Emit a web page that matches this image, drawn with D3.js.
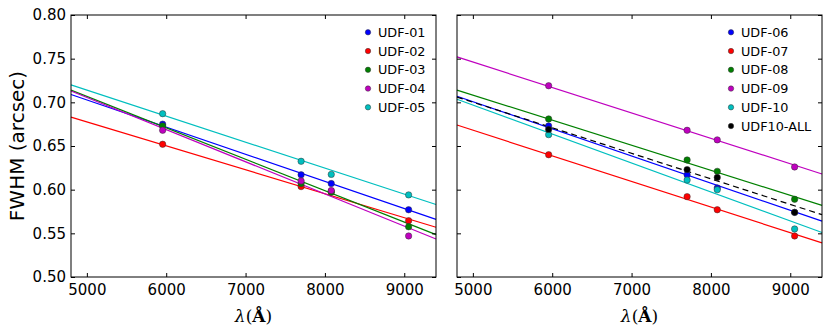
<!DOCTYPE html>
<html>
<head>
<meta charset="utf-8">
<script src="https://cdn.jsdelivr.net/npm/d3@7"></script>
<style>
  body { margin: 0; background: #fff; }
  svg { display: block; font-family: "DejaVu Sans", sans-serif; }
</style>
</head>
<body>
<svg width="830" height="335"></svg>
<script>
// wavelengths of the four filters (Angstrom)
const wavelengths = [5955, 7700, 8080, 9055];
const xTicks = [5000, 6000, 7000, 8000, 9000];
const yTicks = [0.50, 0.55, 0.60, 0.65, 0.70, 0.75, 0.80];
// fitted lines are given by their value at the two ends of the x range
const fitRange = [4800, 9400];

const leftNames = ['UDF-01', 'UDF-02', 'UDF-03', 'UDF-04', 'UDF-05'];
const leftColors = ['#0000ff', '#ff0000', '#008000', '#bf00bf', '#00bfbf'];
const leftValues = [
  [0.675, 0.617, 0.607, 0.577],
  [0.652, 0.6035, 0.598, 0.5645],
  [0.673, 0.607, 0.597, 0.5575],
  [0.668, 0.610, 0.599, 0.547],
  [0.687, 0.6325, 0.6175, 0.594]
];
const leftFits = [
  [0.709, 0.566],
  [0.683, 0.557],
  [0.714, 0.5485],
  [0.713, 0.5435],
  [0.720, 0.583]
];

const rightNames = ['UDF-06', 'UDF-07', 'UDF-08', 'UDF-09', 'UDF-10', 'UDF10-ALL'];
const rightColors = ['#0000ff', '#ff0000', '#008000', '#bf00bf', '#00bfbf', '#000000'];
const rightValues = [
  [0.673, 0.617, 0.602, 0.574],
  [0.640, 0.592, 0.577, 0.547],
  [0.681, 0.634, 0.621, 0.589],
  [0.719, 0.668, 0.657, 0.626],
  [0.663, 0.611, 0.600, 0.555],
  [0.669, 0.623, 0.614, 0.574]
];
const rightFits = [
  [0.707, 0.564],
  [0.674, 0.539],
  [0.714, 0.582],
  [0.752, 0.618],
  [0.7035, 0.551],
  [0.706, 0.5714]
];

const svg = d3.select('svg');
const plotTop = 15, plotBottom = 277;

function panel(x0, x1, names, colors, values, fits, showYLabels, legendX) {
  const x = d3.scaleLinear().domain(fitRange).range([x0, x1]);
  const y = d3.scaleLinear().domain([0.50, 0.80]).range([plotBottom, plotTop]);
  const g = svg.append('g');

  // lines and points
  names.forEach((name, i) => {
    g.append('line')
      .attr('x1', x(fitRange[0])).attr('y1', y(fits[i][0]))
      .attr('x2', x(fitRange[1])).attr('y2', y(fits[i][1]))
      .attr('stroke', colors[i])
      .attr('stroke-width', 1.2)
      .attr('stroke-dasharray', name === 'UDF10-ALL' ? '6,4' : null);
  });
  names.forEach((name, i) => {
    g.selectAll(null).data(values[i]).enter().append('circle')
      .attr('cx', (d, j) => x(wavelengths[j]))
      .attr('cy', d => y(d))
      .attr('r', 3.2)
      .attr('fill', colors[i])
      .attr('stroke', '#333')
      .attr('stroke-width', 0.5);
  });

  // axes, ticks pointing inwards
  const fmtY = d3.format('.2f');
  const bottomAxis = g.append('g').attr('transform', `translate(0,${plotBottom})`)
    .call(d3.axisBottom(x).tickValues(xTicks).tickSizeInner(-4).tickSizeOuter(0).tickPadding(7)
      .tickFormat(d3.format('d')));
  const topAxis = g.append('g').attr('transform', `translate(0,${plotTop})`)
    .call(d3.axisTop(x).tickValues(xTicks).tickSizeInner(-4).tickSizeOuter(0).tickFormat(''));
  const leftAxis = g.append('g').attr('transform', `translate(${x0},0)`)
    .call(d3.axisLeft(y).tickValues(yTicks).tickSizeInner(-4).tickSizeOuter(0).tickPadding(5)
      .tickFormat(showYLabels ? fmtY : ''));
  const rightAxis = g.append('g').attr('transform', `translate(${x1},0)`)
    .call(d3.axisRight(y).tickValues(yTicks).tickSizeInner(-4).tickSizeOuter(0).tickFormat(''));
  [bottomAxis, topAxis, leftAxis, rightAxis].forEach(a => {
    a.select('.domain').remove();
    a.selectAll('line').attr('stroke', '#000');
    a.selectAll('text').attr('font-size', 15).attr('font-family', '"DejaVu Sans", sans-serif').attr('fill', '#000');
  });

  g.append('rect')
    .attr('x', x0).attr('y', plotTop)
    .attr('width', x1 - x0).attr('height', plotBottom - plotTop)
    .attr('fill', 'none').attr('stroke', '#000').attr('stroke-width', 1);

  // x label
  const lab = g.append('text')
    .attr('x', (x0 + x1) / 2).attr('y', 322)
    .attr('text-anchor', 'middle')
    .attr('font-family', '"DejaVu Serif", serif')
    .attr('font-size', 17);
  lab.append('tspan').attr('font-style', 'italic').text('λ');
  lab.append('tspan').text('(');
  lab.append('tspan').attr('font-weight', 'bold').text('Å');
  lab.append('tspan').text(')');

  // legend
  const leg = g.append('g');
  names.forEach((name, i) => {
    const ly = 32.3 + i * 18.75;
    leg.append('circle')
      .attr('cx', legendX).attr('cy', ly).attr('r', 2.7)
      .attr('fill', colors[i]).attr('stroke', '#333').attr('stroke-width', 0.5);
    leg.append('text')
      .attr('x', legendX + 10).attr('y', ly)
      .attr('dy', '0.36em')
      .attr('font-size', 12.8)
      .text(name);
  });
}

panel(71, 436, leftNames, leftColors, leftValues, leftFits, true, 368);
panel(457, 822, rightNames, rightColors, rightValues, rightFits, false, 731);

svg.append('text')
  .attr('transform', 'translate(23.5,146) rotate(-90)')
  .attr('text-anchor', 'middle')
  .attr('font-size', 20)
  .text('FWHM (arcsec)');
</script>
</body>
</html>
